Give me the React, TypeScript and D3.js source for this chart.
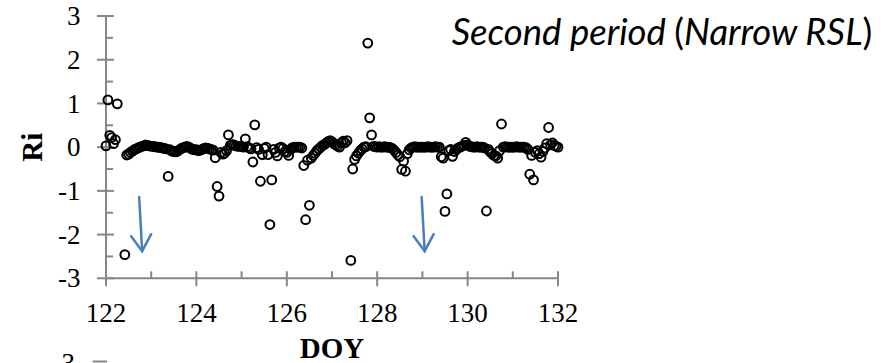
import React from "react";
import * as d3 from "d3";

// Hourly Richardson number, one array of 24 values per day of year (null = no data)
const day122: (number | null)[] = [0.03, 1.08, 0.27, 0.22, 0.08, 0.17, 0.99, null, null, null, -2.46, -0.18, -0.16, -0.12, -0.09, -0.06, -0.04, -0.02, 0.0, 0.02, 0.03, 0.05, 0.04, 0.03];
const day123: (number | null)[] = [0.02, 0.02, 0.01, 0.0, 0.0, -0.01, -0.02, -0.03, -0.04, -0.67, -0.06, -0.09, -0.1, -0.11, -0.09, -0.06, -0.03, -0.01, 0.0, 0.02, 0.0, -0.03, -0.05, -0.06];
const day124: (number | null)[] = [-0.06, -0.08, -0.07, -0.05, -0.03, -0.02, -0.03, -0.04, -0.06, -0.07, -0.24, -0.9, -1.12, -0.12, -0.16, -0.14, -0.08, 0.28, 0.04, 0.06, 0.05, 0.03, 0.02, 0.02];
const day125: (number | null)[] = [0.02, 0.0, 0.19, 0.01, -0.02, -0.04, -0.34, 0.51, -0.01, -0.05, -0.78, -0.17, -0.03, 0.0, -0.17, -1.77, -0.75, -0.05, -0.12, -0.2, -0.02, 0.0, -0.03, -0.1];
const day126: (number | null)[] = [-0.12, -0.19, -0.05, -0.01, 0.0, 0.0, 0.0, 0.0, -0.02, -0.42, -1.66, -0.3, -1.33, -0.25, -0.19, -0.14, -0.08, -0.04, 0.0, 0.04, 0.06, 0.1, 0.13, 0.15];
const day127: (number | null)[] = [0.12, 0.08, 0.05, 0.02, 0.0, 0.1, 0.14, 0.1, 0.15, null, -2.59, -0.5, -0.28, -0.2, -0.14, -0.08, -0.04, 0.0, 0.01, 2.38, 0.67, 0.28, 0.02, 0.01];
const day128: (number | null)[] = [0.0, 0.01, 0.0, 0.0, 0.01, 0.0, 0.0, -0.01, -0.03, -0.07, -0.12, -0.18, -0.22, -0.51, -0.32, -0.55, -0.15, -0.06, -0.02, 0.0, 0.01, 0.0, 0.0, 0.0];
const day129: (number | null)[] = [0.0, 0.0, 0.0, 0.01, 0.0, 0.0, 0.0, 0.01, 0.0, 0.0, -0.22, -0.25, -1.47, -1.07, -0.08, -0.05, -0.21, -0.1, -0.05, -0.02, 0.0, 0.02, 0.04, 0.11];
const day130: (number | null)[] = [0.05, 0.02, 0.01, 0.0, 0.0, 0.01, 0.0, 0.0, 0.0, -0.02, -1.46, -0.05, -0.11, -0.15, -0.19, -0.2, -0.25, -0.08, 0.53, 0.0, 0.01, 0.0, 0.0, 0.0];
const day131: (number | null)[] = [0.0, 0.0, 0.01, 0.0, 0.0, 0.0, 0.0, -0.01, -0.05, -0.62, -0.19, -0.75, -0.12, -0.08, -0.15, -0.23, -0.1, -0.02, 0.08, 0.45, 0.05, 0.1, 0.04, 0.02];
const day132: (number | null)[] = [0.0];

const days: [number, (number | null)[]][] = [
  [122, day122], [123, day123], [124, day124], [125, day125], [126, day126],
  [127, day127], [128, day128], [129, day129], [130, day130], [131, day131], [132, day132],
];

const xTicks = [122, 124, 126, 128, 130, 132];
const xMinorTicks = [123, 125, 127, 129, 131];
const yTicks = [-3, -2, -1, 0, 1, 2, 3];
const yMinorTicks = [-2.5, -1.5, -0.5, 0.5, 1.5, 2.5];

// Annotation arrows: [doy, Ri at tail, Ri at head]
const arrows: [number, number, number][] = [
  [122.8, -1.14, -2.38],
  [129.05, -1.14, -2.38],
];

export default function App() {
  const W = 889;
  const H = 363;
  const x = d3.scaleLinear().domain([122, 132]).range([106, 558]);
  const y = d3.scaleLinear().domain([-3, 3]).range([278.3, 16]);

  const points: { doy: number; ri: number }[] = [];
  days.forEach(([d, vals]) => {
    vals.forEach((v, h) => {
      if (v !== null) points.push({ doy: d + h / 24, ri: v });
    });
  });

  const axisColor = "#868686";
  const serif = "'Liberation Serif', 'Times New Roman', serif";
  const arrowColor = "#4A7EBB";

  return (
    <svg width={W} height={H} style={{ position: "absolute", left: 0, top: 0, background: "#fff" }}>
      {/* axes */}
      <line x1={x(122)} x2={x(132)} y1={y(-3)} y2={y(-3)} stroke={axisColor} strokeWidth={2} />
      <line x1={x(122)} x2={x(122)} y1={y(-3)} y2={y(3)} stroke={axisColor} strokeWidth={2} />
      {xTicks.map((t) => (
        <line key={"xt" + t} x1={x(t)} x2={x(t)} y1={y(-3) - 7} y2={y(-3) + 8} stroke={axisColor} strokeWidth={2} />
      ))}
      {xMinorTicks.map((t) => (
        <line key={"xm" + t} x1={x(t)} x2={x(t)} y1={y(-3) - 7} y2={y(-3)} stroke={axisColor} strokeWidth={2} />
      ))}
      {yTicks.map((t) => (
        <line key={"yt" + t} x1={x(122) - 9} x2={x(122) + 8} y1={y(t)} y2={y(t)} stroke={axisColor} strokeWidth={2} />
      ))}
      {yMinorTicks.map((t) => (
        <line key={"ym" + t} x1={x(122)} x2={x(122) + 7} y1={y(t)} y2={y(t)} stroke={axisColor} strokeWidth={2} />
      ))}

      {/* tick labels */}
      {xTicks.map((t) => (
        <text key={"xl" + t} x={x(t)} y={321.5} textAnchor="middle" fontFamily={serif} fontSize={27} fill="#000">
          {t}
        </text>
      ))}
      {yTicks.map((t) => (
        <text key={"yl" + t} x={80.5} y={y(t)} dy="0.34em" textAnchor="end" fontFamily={serif} fontSize={27} fill="#000">
          {t}
        </text>
      ))}

      {/* axis titles */}
      <text x={(x(122) + x(132)) / 2} y={358} textAnchor="middle" fontFamily={serif} fontWeight="bold" fontSize={29} fill="#000">
        DOY
      </text>
      <text transform={`translate(41.5, ${y(0)}) rotate(-90)`} textAnchor="middle" fontFamily={serif} fontWeight="bold" fontSize={29} fill="#000">
        Ri
      </text>

      {/* data */}
      {points.map((p, i) => (
        <circle key={i} cx={x(p.doy)} cy={y(p.ri)} r={4.4} fill="none" stroke="#000" strokeWidth={2} />
      ))}

      {/* arrows */}
      {arrows.map(([d, r0, r1], i) => {
        const x0 = x(d) - 3;
        const x1 = x(d);
        const y0 = y(r0);
        const y1 = y(r1);
        return (
          <g key={"ar" + i} stroke={arrowColor} strokeWidth={2.5} fill="none" strokeLinecap="round">
            <line x1={x0} y1={y0} x2={x1} y2={y1} />
            <polyline points={`${x1 - 11},${y1 - 15} ${x1},${y1} ${x1 + 9},${y1 - 17}`} strokeLinejoin="miter" />
          </g>
        );
      })}

      {/* title */}
      <text x={451.7} y={44.5} fontFamily="Lato, 'Open Sans', sans-serif" fontSize={36.5} fill="#000">
        <tspan fontStyle="italic">Second period </tspan>
        <tspan>(</tspan>
        <tspan fontStyle="italic">Narrow RSL</tspan>
        <tspan>)</tspan>
      </text>

      {/* top of the next panel */}
      <text x={75} y={372} textAnchor="end" fontFamily={serif} fontSize={27} fill="#000">
        3
      </text>
      <line x1={92.7} x2={107} y1={361.5} y2={361.5} stroke={axisColor} strokeWidth={2} />
    </svg>
  );
}
